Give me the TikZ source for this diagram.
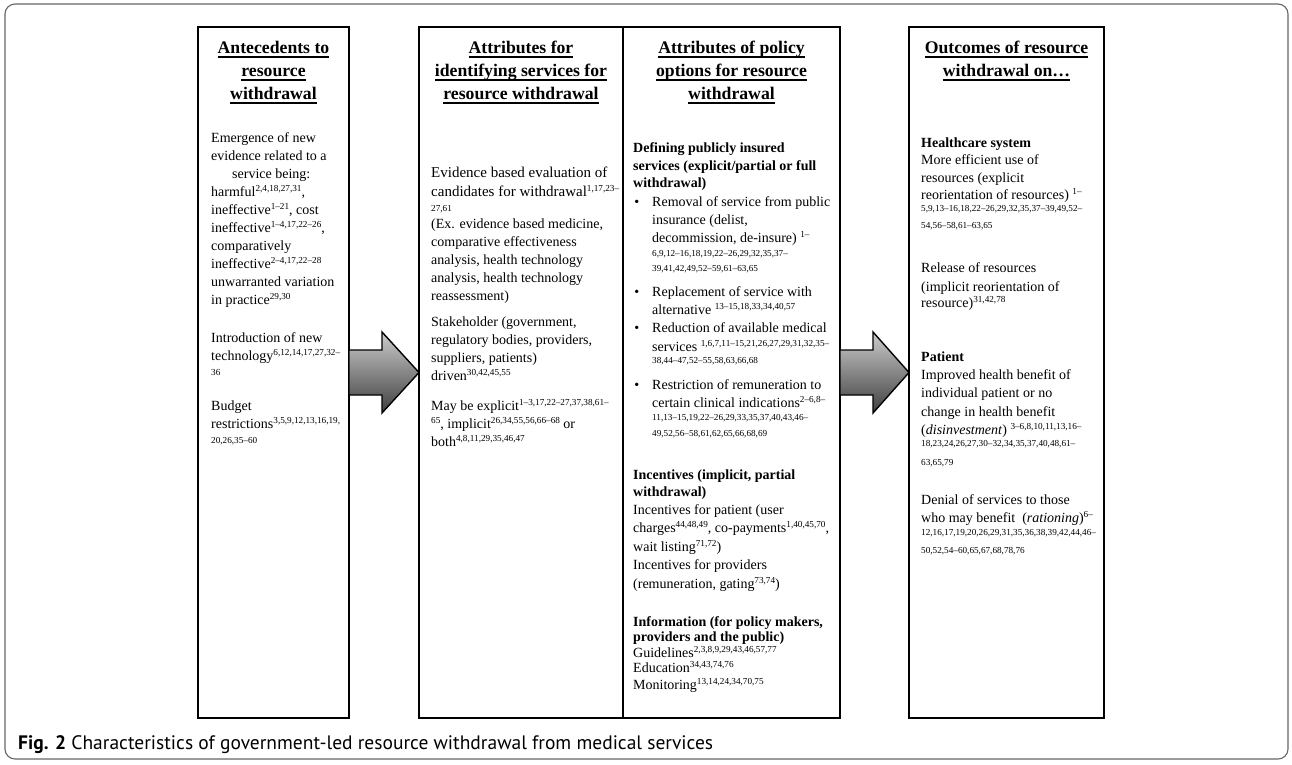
\documentclass[tikz,border=0pt]{standalone}
\usepackage{fontspec}
\setmainfont{Liberation Serif}
\newfontfamily\capfont{PT Sans}
\usetikzlibrary{positioning,calc}
% reference numbers, raised or on their own line
\newcommand{\refs}[1]{\raisebox{5.2pt}{\fontsize{9.2}{10}\selectfont #1}}
\newcommand{\refline}[1]{{\fontsize{9.2}{10}\selectfont #1}}
% heavy underline for the column headings
\newcommand{\ulhead}[1]{\setbox0=\hbox{#1}\rlap{\rule[-4.6pt]{\wd0}{2pt}}\box0}
\newcommand{\bul}{\llap{\textbullet\hspace{13pt}}}

\begin{document}
\begin{tikzpicture}[x=1pt, y=-1pt,
  font=\fontsize{14}{18}\selectfont,
  colbox/.style={draw, line width=2.6pt, minimum height=691pt,
    inner sep=0pt, outer sep=0pt},
  panel/.style={minimum height=691pt, inner sep=0pt, outer sep=0pt},
  head/.style={font=\fontsize{17.7}{23}\selectfont\bfseries,
    align=center, inner sep=0pt},
  % text blocks are placed by the baseline of their last line
  txt/.style={anchor=base west, align=left, inner sep=0pt},
  btxt/.style={txt, font=\fontsize{14}{17.5}\selectfont\bfseries},
  bigarrow/.style={draw, line width=1.4pt, line join=miter,
    top color=black!20, bottom color=black!75}
]
  \useasboundingbox[fill=white] (0,0) rectangle (1292,764);
  \draw[black!60, line width=1.1pt, rounded corners=10pt] (5,4) rectangle (1288,759);

  % the four columns
  \node[colbox, minimum width=151pt] (ante) at (273.5,372.5) {};
  \node[panel, minimum width=204pt, right=70pt of ante] (ident) {};
  \node[panel, minimum width=217pt, right=0pt of ident] (policy) {};
  \node[colbox, minimum width=195pt, right=69pt of policy] (outcome) {};
  \draw[line width=2.6pt] (ident.north west) rectangle (policy.south east);
  \draw[line width=1.8pt] (ident.north east) -- (ident.south east);

  % block arrows between columns
  \draw[bigarrow] ($(ante.east)+(0,-22.5)$) -- ++(33,0) -- ++(0,-18) -- (ident.west)
    -- ($(ante.east)+(33,40.5)$) -- ++(0,-18) -- ($(ante.east)+(0,22.5)$) -- cycle;
  \draw[bigarrow] ($(policy.east)+(0,-22.5)$) -- ++(33,0) -- ++(0,-18) -- (outcome.west)
    -- ($(policy.east)+(33,40.5)$) -- ++(0,-18) -- ($(policy.east)+(0,22.5)$) -- cycle;

  % headings
  \node[head, below=14pt of ante.north] (antehead)
    {\ulhead{Antecedents to}\\ \ulhead{resource}\\ \ulhead{withdrawal}};
  \node[head, below=14pt of ident.north] (identhead)
    {\ulhead{Attributes for}\\ \ulhead{identifying services for}\\ \ulhead{resource withdrawal}};
  \node[head, below=14pt of policy.north] (policyhead)
    {\ulhead{Attributes of policy}\\ \ulhead{options for resource}\\ \ulhead{withdrawal}};
  \node[head, below=14pt of outcome.north] (outhead)
    {\ulhead{Outcomes of resource}\\ \ulhead{withdrawal on…}};

  % antecedents
  \node[txt] (ante1) at (211,304.5) {Emergence of new\\ evidence related to a\\
    \hspace*{21pt}service being:\\ harmful\refs{2,4,18,27,31},\\ ineffective\refs{1--21}, cost\\
    ineffective\refs{1--4,17,22--26},\\ comparatively\\ ineffective\refs{2--4,17,22--28}\\
    unwarranted variation\\ in practice\refs{29,30}};
  \node[txt] (ante2) at (211,375) {Introduction of new\\
    technology\refs{6,12,14,17,27,32--}\\[-3.5pt] \refline{36}};
  \node[txt] (ante3) at (211,443) {Budget\\
    restrictions\refs{3,5,9,12,13,16,19,}\\[-3.5pt] \refline{20,26,35--60}};

  % identifying services
  \node[txt, font=\fontsize{15}{19}\selectfont] (ident1) at (431,211) {Evidence based evaluation of\\
    candidates for withdrawal\refs{1,17,23--}\\[-4.5pt] \refline{27,61}};
  \node[txt] (ident2) at (431,300.5) {(Ex. evidence based medicine,\\
    comparative effectiveness\\ analysis, health technology\\
    analysis, health technology\\ reassessment)};
  \node[txt] (ident3) at (431,380.5) {Stakeholder (government,\\
    regulatory bodies, providers,\\ suppliers, patients)\\ driven\refs{30,42,45,55}};
  \node[txt] (ident4) at (431,446.5) {May be explicit\refs{1--3,17,22--27,37,38,61--}\\
    \refs{65}, implicit\refs{26,34,55,56,66--68} or\\ both\refs{4,8,11,29,35,46,47}};

  % policy options
  \node[btxt] (pol1) at (633,187.5) {Defining publicly insured\\
    services (explicit/partial or full\\ withdrawal)};
  \node[txt] (pol2) at (652,271) {\bul Removal of service from public\\
    insurance (delist,\\ decommission, de-insure) \refs{1--}\\[-4.5pt]
    \refline{6,9,12--16,18,19,22--26,29,32,35,37--}\\[-3pt]
    \refline{39,41,42,49,52--59,61--63,65}};
  \node[txt] (pol3) at (652,314.5) {\bul Replacement of service with\\
    alternative \refs{13--15,18,33,34,40,57}};
  \node[txt] (pol4) at (652,363) {\bul Reduction of available medical\\[1pt]
    services \refs{1,6,7,11--15,21,26,27,29,31,32,35--}\\[-6.5pt]
    \refline{38,44--47,52--55,58,63,66,68}};
  \node[txt] (pol5) at (652,436) {\bul Restriction of remuneration to\\
    certain clinical indications\refs{2--6,8--}\\[-5.5pt]
    \refline{11,13--15,19,22--26,29,33,35,37,40,43,46--}\\[-2pt]
    \refline{49,52,56--58,61,62,65,66,68,69}};
  \node[btxt] (pol6) at (633,496.5) {Incentives (implicit, partial\\[-0.5pt] withdrawal)};
  \node[txt] (pol7) at (633,588.5) {Incentives for patient (user\\
    charges\refs{44,48,49}, co-payments\refs{1,40,45,70},\\[1pt]
    wait listing\refs{71,72})\\ Incentives for providers\\[1pt]
    (remuneration, gating\refs{73,74})};
  \node[btxt] (pol8) at (633,641.5) {Information (for policy makers,\\[-2.5pt]
    providers and the public)};
  \node[txt] (pol9) at (633,689.5) {Guidelines\refs{2,3,8,9,29,43,46,57,77}\\[-3pt]
    Education\refs{34,43,74,76}\\[-1pt] Monitoring\refs{13,14,24,34,70,75}};

  % outcomes
  \node[txt] (out1) at (921,228) {\textbf{Healthcare system}\\[-1pt]
    More efficient use of\\ resources (explicit\\[-1pt]
    reorientation of resources) \refs{1--}\\[-6.5pt]
    \refline{5,9,13--16,18,22--26,29,32,35,37--39,49,52--}\\[-1pt]
    \refline{54,56--58,61--63,65}};
  \node[txt] (out2) at (921,307.5) {Release of resources\\[1pt]
    (implicit reorientation of\\[-2pt] resource)\refs{31,42,78}};
  \node[txt] (out3) at (921,465) {\textbf{Patient}\\ Improved health benefit of\\
    individual patient or no\\[1pt] change in health benefit\\
    (\textit{disinvestment}) \refs{3--6,8,10,11,13,16--}\\[-6.5pt]
    \refline{18,23,24,26,27,30--32,34,35,37,40,48,61--}\\[1pt]
    \refline{63,65,79}};
  \node[txt] (out4) at (921,553) {Denial of services to those\\
    who may benefit\ \ (\textit{rationing})\refs{6--}\\[-5.5pt]
    \refline{12,16,17,19,20,26,29,31,35,36,38,39,42,44,46--}\\
    \refline{50,52,54--60,65,67,68,78,76}};

  % caption
  \node[anchor=base west, inner sep=0pt, font=\capfont\fontsize{19.5}{22}\selectfont]
    (caption) at (18,749) {\textbf{Fig. 2} Characteristics of government-led resource
    withdrawal from medical services};
\end{tikzpicture}
\end{document}
